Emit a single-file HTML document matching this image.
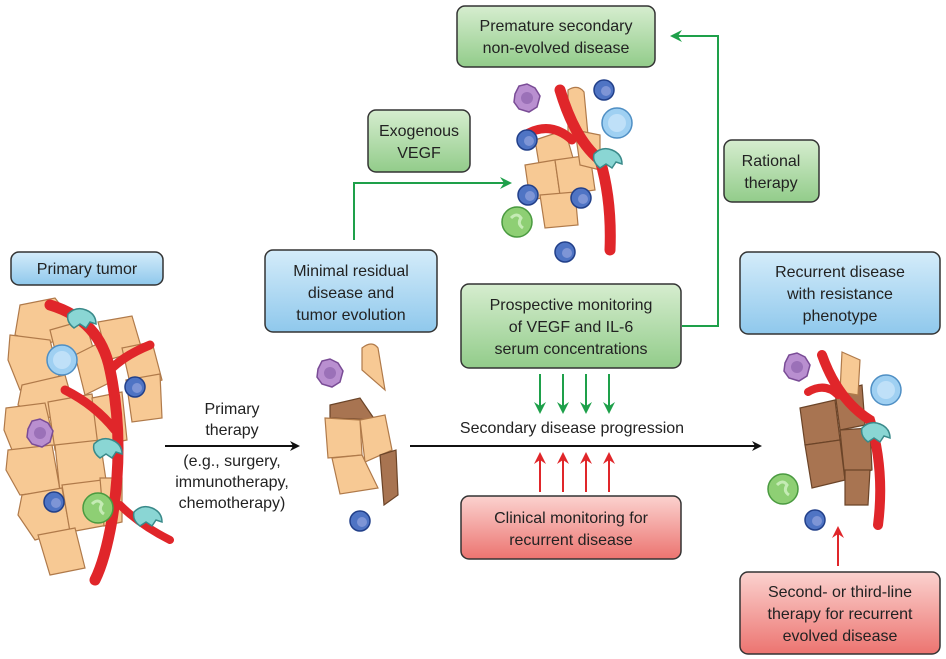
<!DOCTYPE html>
<html><head><meta charset="utf-8"><style>
body{margin:0;background:#fff;}
svg{display:block;font-family:"Liberation Sans",sans-serif;}
.t{font-size:16px;fill:#222;text-anchor:middle}
.c{fill:#f7c994;stroke:#b07a4a;stroke-width:1.2}
.b{fill:#a87451;stroke:#6b4428;stroke-width:1.2}
.v{fill:none;stroke:#e0262a;stroke-linecap:round}
</style></head><body>
<svg width="946" height="659" viewBox="0 0 946 659">
<defs>
<linearGradient id="gb" x1="0" y1="0" x2="0" y2="1"><stop offset="0" stop-color="#d4ecfa"/><stop offset="1" stop-color="#8fc8ec"/></linearGradient>
<linearGradient id="gg" x1="0" y1="0" x2="0" y2="1"><stop offset="0" stop-color="#d6edcf"/><stop offset="1" stop-color="#92cc8a"/></linearGradient>
<linearGradient id="gr" x1="0" y1="0" x2="0" y2="1"><stop offset="0" stop-color="#fbd2cf"/><stop offset="1" stop-color="#ec7470"/></linearGradient>
<marker id="ak" markerWidth="10" markerHeight="10" refX="8" refY="5" orient="auto" markerUnits="userSpaceOnUse"><path d="M0,0 L10,5 L0,10 L3,5z" fill="#111"/></marker>
<marker id="ag" markerWidth="12" markerHeight="12" refX="10" refY="6" orient="auto" markerUnits="userSpaceOnUse"><path d="M0,0 L12,6 L0,12 L4,6z" fill="#1ea04a"/></marker>
<marker id="ar" markerWidth="12" markerHeight="12" refX="10" refY="6" orient="auto" markerUnits="userSpaceOnUse"><path d="M0,0 L12,6 L0,12 L4,6z" fill="#e0262a"/></marker>
<g id="blue"><circle r="10" fill="#4f74c4" stroke="#22408a" stroke-width="1.5"/><circle cx="2" cy="1" r="5" fill="#7e95d6"/></g>
<g id="purp"><path d="M-12,-4 L-8,-12 L0,-14 L8,-10 L13,-2 L10,9 L2,14 L-8,11 L-13,4z" fill="#b98fd0" stroke="#7a4c96" stroke-width="1.5"/><circle r="6" fill="#9b71b8"/></g>
<g id="speck"><circle r="15" fill="#9fd0f2" stroke="#4f8fc4" stroke-width="1.5"/><circle r="9" fill="#bfe0f8"/></g>
<g id="grn"><circle r="15" fill="#8ecf74" stroke="#4a9a40" stroke-width="1.5"/><path d="M-6,-4 q6,-6 10,0 q-4,6 2,10" stroke="#c5ebb5" stroke-width="3" fill="none"/></g>
<g id="teal"><path d="M-14,-6 q8,-8 18,-4 q10,4 10,14 l-6,-2 l-4,6 l-6,-4 l-6,4 q-8,-6 -6,-14z" fill="#8ad6d4" stroke="#3a8a8a" stroke-width="1.5"/></g>
</defs>

<rect x="11" y="252" width="152" height="33" rx="8" fill="url(#gb)" stroke="#333" stroke-width="1.5"/>
<text class="t" x="87" y="274">Primary tumor</text>
<rect x="265" y="250" width="172" height="82" rx="8" fill="url(#gb)" stroke="#333" stroke-width="1.5"/>
<text class="t" x="351" y="276">Minimal residual</text><text class="t" x="351" y="298">disease and</text><text class="t" x="351" y="320">tumor evolution</text>
<rect x="368" y="110" width="102" height="62" rx="8" fill="url(#gg)" stroke="#333" stroke-width="1.5"/>
<text class="t" x="419" y="136">Exogenous</text><text class="t" x="419" y="158">VEGF</text>
<rect x="457" y="6" width="198" height="61" rx="8" fill="url(#gg)" stroke="#333" stroke-width="1.5"/>
<text class="t" x="556" y="31">Premature secondary</text><text class="t" x="556" y="53">non-evolved disease</text>
<rect x="724" y="140" width="95" height="62" rx="8" fill="url(#gg)" stroke="#333" stroke-width="1.5"/>
<text class="t" x="771" y="166">Rational</text><text class="t" x="771" y="188">therapy</text>
<rect x="461" y="284" width="220" height="84" rx="8" fill="url(#gg)" stroke="#333" stroke-width="1.5"/>
<text class="t" x="571" y="310">Prospective monitoring</text><text class="t" x="571" y="332">of VEGF and IL-6</text><text class="t" x="571" y="354">serum concentrations</text>
<rect x="740" y="252" width="200" height="82" rx="8" fill="url(#gb)" stroke="#333" stroke-width="1.5"/>
<text class="t" x="840" y="277">Recurrent disease</text><text class="t" x="840" y="299">with resistance</text><text class="t" x="840" y="321">phenotype</text>
<rect x="461" y="496" width="220" height="63" rx="8" fill="url(#gr)" stroke="#333" stroke-width="1.5"/>
<text class="t" x="571" y="523">Clinical monitoring for</text><text class="t" x="571" y="545">recurrent disease</text>
<rect x="740" y="572" width="200" height="82" rx="8" fill="url(#gr)" stroke="#333" stroke-width="1.5"/>
<text class="t" x="840" y="597">Second- or third-line</text><text class="t" x="840" y="619">therapy for recurrent</text><text class="t" x="840" y="641">evolved disease</text>

<line x1="165" y1="446" x2="298" y2="446" stroke="#111" stroke-width="2" marker-end="url(#ak)"/>
<line x1="410" y1="446" x2="760" y2="446" stroke="#111" stroke-width="2" marker-end="url(#ak)"/>
<text class="t" x="232" y="414">Primary</text><text class="t" x="232" y="435">therapy</text>
<text class="t" x="232" y="466">(e.g., surgery,</text><text class="t" x="232" y="487">immunotherapy,</text><text class="t" x="232" y="508">chemotherapy)</text>
<text class="t" x="572" y="433">Secondary disease progression</text>
<path d="M354,240 V183 H510" fill="none" stroke="#1ea04a" stroke-width="2" marker-end="url(#ag)"/>
<path d="M682,326 H718 V36 H672" fill="none" stroke="#1ea04a" stroke-width="2" marker-end="url(#ag)"/>
<g stroke="#1ea04a" stroke-width="2" marker-end="url(#ag)">
<line x1="540" y1="374" x2="540" y2="412"/><line x1="563" y1="374" x2="563" y2="412"/><line x1="586" y1="374" x2="586" y2="412"/><line x1="609" y1="374" x2="609" y2="412"/></g>
<g stroke="#e0262a" stroke-width="2" marker-end="url(#ar)">
<line x1="540" y1="492" x2="540" y2="454"/><line x1="563" y1="492" x2="563" y2="454"/><line x1="586" y1="492" x2="586" y2="454"/><line x1="609" y1="492" x2="609" y2="454"/>
<line x1="838" y1="566" x2="838" y2="528"/></g>

<g>
<path class="c" d="M20,305 L55,298 L80,330 L45,345 L15,335z"/>
<path class="c" d="M10,335 L50,340 L60,380 L20,390 L8,360z"/>
<path class="c" d="M50,330 L85,320 L95,355 L60,370z"/>
<path class="c" d="M22,385 L65,375 L75,410 L40,420 L18,405z"/>
<path class="c" d="M6,408 L45,403 L55,445 L12,450 L4,430z"/>
<path class="c" d="M48,402 L92,394 L100,440 L55,450z"/>
<path class="c" d="M8,450 L52,445 L60,490 L20,495 L6,470z"/>
<path class="c" d="M55,445 L100,440 L106,480 L60,492z"/>
<path class="c" d="M22,495 L62,488 L70,530 L35,540 L18,515z"/>
<path class="c" d="M62,485 L102,480 L108,525 L70,532z"/>
<path class="c" d="M38,535 L75,528 L85,568 L50,575z"/>
<path class="c" d="M75,355 L105,340 L115,380 L85,395z"/>
<path class="c" d="M98,322 L132,316 L142,350 L108,360z"/>
<path class="c" d="M122,348 L152,342 L162,380 L132,392z"/>
<path class="c" d="M126,380 L160,374 L162,418 L132,422z"/>
<path class="c" d="M92,398 L122,392 L127,440 L98,446z"/>
<path class="c" d="M100,478 L122,478 L122,522 L104,526z"/>
<path class="v" d="M50,305 Q100,320 110,370 Q125,440 112,520 Q105,560 95,580" stroke-width="11"/>
<path class="v" d="M110,370 Q125,355 150,345" stroke-width="9"/>
<path class="v" d="M65,390 Q95,405 115,430" stroke-width="9"/>
<path class="v" d="M120,505 Q140,525 170,540" stroke-width="8"/>
<use href="#speck" x="62" y="360"/><use href="#blue" x="135" y="387"/>
<use href="#purp" x="40" y="433"/><use href="#blue" x="54" y="502"/>
<use href="#grn" x="98" y="508"/><use href="#teal" x="82" y="320"/>
<use href="#teal" x="108" y="450"/><use href="#teal" x="148" y="518"/>
</g>

<g>
<use href="#purp" x="330" y="373"/>
<path class="c" d="M362,348 Q372,340 378,348 L385,390 L362,370z"/>
<path class="b" d="M330,405 L360,398 L375,420 L330,418z"/>
<path class="c" d="M325,418 L360,420 L362,455 L328,458z"/>
<path class="c" d="M360,420 L385,415 L392,450 L365,462z"/>
<path class="c" d="M332,458 L362,455 L378,488 L340,494z"/>
<path class="b" d="M380,455 L396,450 L398,495 L384,505z"/>
<use href="#blue" x="360" y="521"/>
</g>

<g>
<use href="#purp" x="527" y="98"/>
<path class="c" d="M568,90 Q578,84 584,92 L588,135 L568,135z"/>
<use href="#blue" x="604" y="90"/><use href="#speck" x="617" y="123"/>
<path class="c" d="M535,140 L565,130 L575,165 L540,170z"/>
<path class="c" d="M525,165 L555,160 L560,195 L530,200z"/>
<path class="c" d="M555,160 L590,155 L595,190 L560,195z"/>
<path class="c" d="M540,195 L575,192 L578,225 L545,228z"/>
<path class="c" d="M575,130 L600,135 L600,170 L580,165z"/>
<path class="v" d="M560,90 Q575,140 600,160 Q612,200 610,250" stroke-width="11"/>
<path class="v" d="M525,135 Q550,120 572,140" stroke-width="9"/>
<use href="#blue" x="527" y="140"/><use href="#blue" x="528" y="195"/>
<use href="#blue" x="581" y="198"/><use href="#teal" x="608" y="160"/>
<use href="#grn" x="517" y="222"/><use href="#blue" x="565" y="252"/>
</g>

<g>
<use href="#purp" x="797" y="367"/><use href="#speck" x="886" y="390"/>
<path class="b" d="M800,408 L835,400 L840,440 L805,445z"/>
<path class="b" d="M805,445 L840,440 L845,480 L812,488z"/>
<path class="b" d="M835,392 L862,385 L865,425 L840,430z"/>
<path class="b" d="M840,430 L870,428 L872,470 L845,480z"/>
<path class="b" d="M845,470 L870,470 L868,505 L845,505z"/>
<path class="c" d="M842,352 L860,360 L858,395 L840,392z"/>
<path class="v" d="M822,355 Q838,400 870,420 Q885,470 878,525" stroke-width="10"/>
<path class="v" d="M808,392 Q825,382 838,395" stroke-width="8"/>
<use href="#teal" x="876" y="434"/><use href="#grn" x="783" y="489"/>
<use href="#blue" x="815" y="520"/>
</g>
</svg>
</body></html>
